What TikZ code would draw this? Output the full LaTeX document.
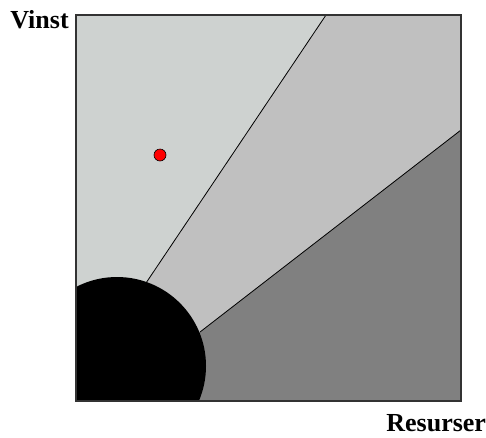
\documentclass[tikz,border=0pt]{standalone}
\usepackage{fontspec}
\setmainfont{Liberation Serif}
\usepackage{tikz}
\usetikzlibrary{calc,positioning}
\definecolor{zone-light}{HTML}{CED2D0}
\definecolor{zone-mid}{HTML}{C0C0C0}
\definecolor{zone-dark}{HTML}{808080}

\begin{document}
\begin{tikzpicture}[x=1pt, y=-1pt, line width=0.8pt,
    axislabel/.style={font=\fontsize{26}{28}\selectfont\bfseries, inner sep=0pt}]
    \useasboundingbox (0,0) rectangle (486,437);
    % corners and split points
    \coordinate (sw) at (76,401);
    \coordinate (ne) at (461,15);
    \coordinate (c) at (117,366);
    \coordinate (topcut) at (326,15);
    \coordinate (rightcut) at (461,130);
    \coordinate (arcA) at (146,283);
    \coordinate (arcB) at (200,332);
    % zones
    \fill[zone-light] (sw) rectangle (ne);
    \fill[zone-mid] (topcut) -- (ne) -- (rightcut) -- (arcB) -- (arcA) -- cycle;
    \fill[zone-dark] (rightcut) -- (461,401) -- (117,401) -- (c) -- (arcB) -- cycle;
    \begin{scope}
        \clip (sw) rectangle (ne);
        \fill[black] (c) circle (89);
    \end{scope}
    \draw (arcA) -- (topcut);
    \draw (arcB) -- (rightcut);
    \draw[black!80, line width=1.3pt] (sw) rectangle (ne);
    % point
    \node[circle, fill=red, draw=black, line width=0.6pt, minimum size=12pt, inner sep=0pt] (pt) at (160,155) {};
    % axis texts
    \node[axislabel, anchor=base west] (vinst) at (10,28) {Vinst};
    \node[axislabel, anchor=base west] (resurser) at (386,431) {Resurser};
\end{tikzpicture}
\end{document}
